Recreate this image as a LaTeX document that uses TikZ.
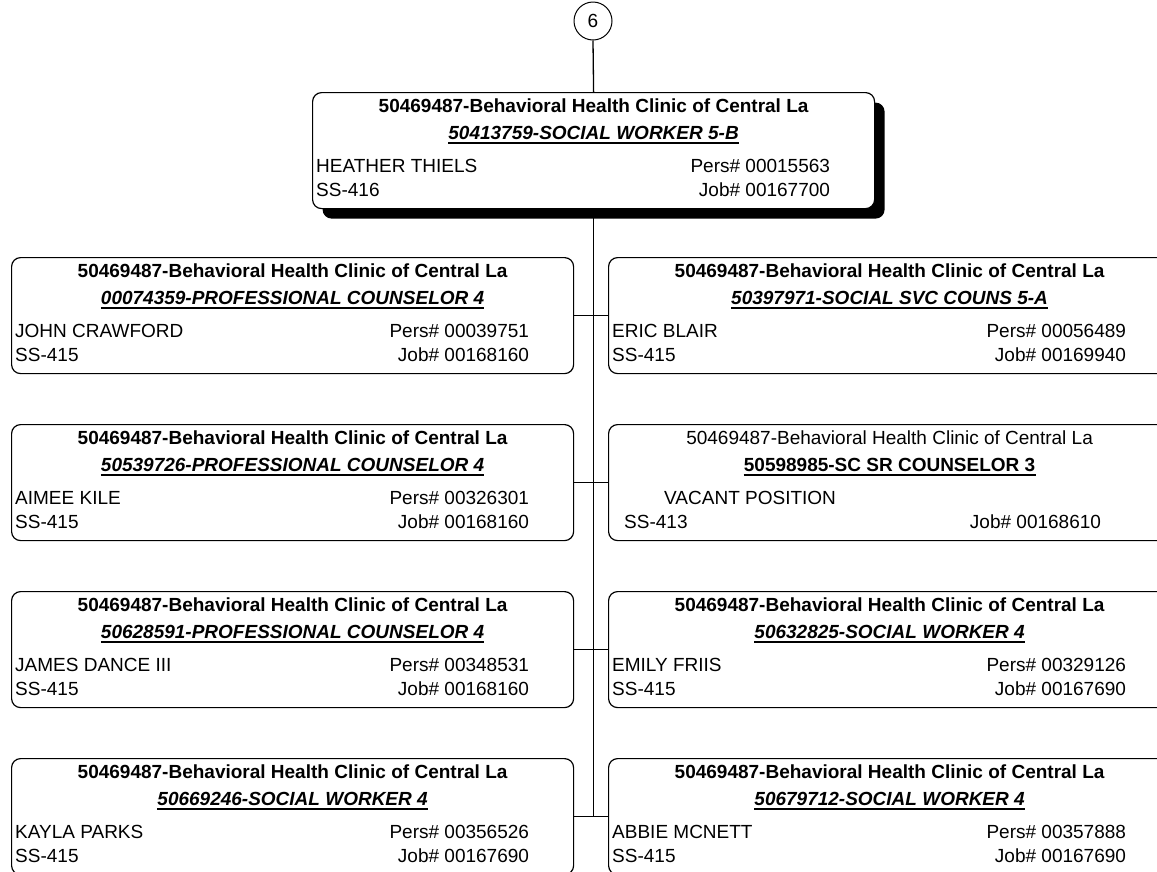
\documentclass[tikz,border=0pt]{standalone}
\usepackage{fontspec}
\setmainfont{Liberation Sans}
\usetikzlibrary{shadows}
\tikzset{
  box/.style={draw, line width=1.2pt, rounded corners=9pt, minimum width=562pt,
    minimum height=116pt, anchor=north west, inner sep=0pt, fill=white},
  txt/.style={inner sep=0pt, anchor=base, font=\fontsize{19}{22}\selectfont},
  hdr/.style={txt, font=\fontsize{19}{22}\selectfont\bfseries},
  ttl/.style={txt, font=\fontsize{19}{22}\selectfont\bfseries\itshape},
  ttlup/.style={txt, font=\fontsize{19}{22}\selectfont\bfseries},
  uline/.style={line width=1.3pt},
  conn/.style={line width=1.3pt},
  topshadow/.style={drop shadow={shadow xshift=10pt, shadow yshift=-10pt, fill=black, opacity=1}},
}
\newcommand\orgbox[8]{%
  \node[box,#2] (#1) at (#3) {};
  \node[hdr] (#1h) at ([yshift=-20pt]#1.north) {50469487-Behavioral Health Clinic of Central La};
  \node[ttl] (#1t) at ([yshift=-47pt]#1.north) {#4};
  \draw[uline] ([yshift=-4pt]#1t.base west) -- ([yshift=-4pt]#1t.base east);
  \node[txt, anchor=base west] (#1n) at ([xshift=4pt,yshift=-80pt]#1.north west) {#5};
  \node[txt, anchor=base east] (#1p) at ([xshift=-45pt,yshift=-80pt]#1.north east) {Pers\# #6};
  \node[txt, anchor=base west] (#1s) at ([xshift=4pt,yshift=-104pt]#1.north west) {#7};
  \node[txt, anchor=base east] (#1j) at ([xshift=-45pt,yshift=-104pt]#1.north east) {Job\# #8};
}
\begin{document}
\begin{tikzpicture}[x=1pt, y=-1pt]
\useasboundingbox (0,0) rectangle (1157,871);
\clip (0,0) rectangle (1157,871);
\fill[white] (0,0) rectangle (1157,871);

% circle connector
\node[circle, draw, line width=1pt, minimum size=38pt, inner sep=0pt, font=\fontsize{19}{22}\selectfont] (c6) at (593,21) {6};

% top box
\orgbox{top}{topshadow}{312,92}{50413759-SOCIAL WORKER 5-B}{HEATHER THIELS}{00015563}{SS-416}{00167700}

% left column
\orgbox{L1}{}{11,257}{00074359-PROFESSIONAL COUNSELOR 4}{JOHN CRAWFORD}{00039751}{SS-415}{00168160}
\orgbox{L2}{}{11,424}{50539726-PROFESSIONAL COUNSELOR 4}{AIMEE KILE}{00326301}{SS-415}{00168160}
\orgbox{L3}{}{11,591}{50628591-PROFESSIONAL COUNSELOR 4}{JAMES DANCE III}{00348531}{SS-415}{00168160}
\orgbox{L4}{}{11,758}{50669246-SOCIAL WORKER 4}{KAYLA PARKS}{00356526}{SS-415}{00167690}

% right column
\orgbox{R1}{}{608,257}{50397971-SOCIAL SVC COUNS 5-A}{ERIC BLAIR}{00056489}{SS-415}{00169940}
% vacant position box
\node[box] (R2) at (608,424) {};
\node[txt] (R2h) at ([yshift=-20pt]R2.north) {50469487-Behavioral Health Clinic of Central La};
\node[ttlup] (R2t) at ([yshift=-47pt]R2.north) {50598985-SC SR COUNSELOR 3};
\draw[uline] ([yshift=-4pt]R2t.base west) -- ([yshift=-4pt]R2t.base east);
\node[txt, anchor=base west] (R2n) at ([xshift=56pt,yshift=-80pt]R2.north west) {VACANT POSITION};
\node[txt, anchor=base west] (R2s) at ([xshift=16pt,yshift=-104pt]R2.north west) {SS-413};
\node[txt, anchor=base east] (R2j) at ([xshift=-70pt,yshift=-104pt]R2.north east) {Job\# 00168610};
\orgbox{R3}{}{608,591}{50632825-SOCIAL WORKER 4}{EMILY FRIIS}{00329126}{SS-415}{00167690}
\orgbox{R4}{}{608,758}{50679712-SOCIAL WORKER 4}{ABBIE MCNETT}{00357888}{SS-415}{00167690}

% connectors
\coordinate (tend) at (L4.east -| top.south);
\draw[conn] (c6.south) -- (top.north);
\draw[conn] (top.south) -- (tend);
\draw[conn] (L1.east) -- (R1.west);
\draw[conn] (L2.east) -- (R2.west);
\draw[conn] (L3.east) -- (R3.west);
\draw[conn] (L4.east) -- (R4.west);
\end{tikzpicture}
\end{document}
